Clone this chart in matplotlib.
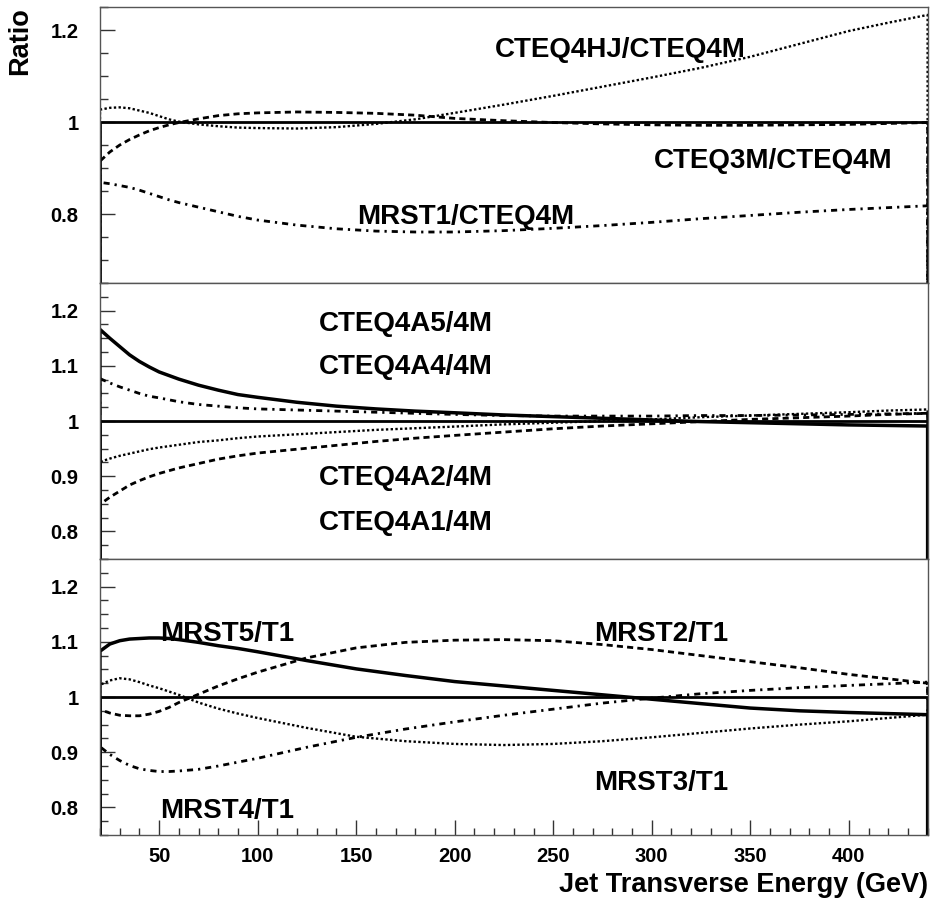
import matplotlib
matplotlib.use("Agg")
import matplotlib.pyplot as plt
from matplotlib.ticker import MultipleLocator, FormatStrFormatter
import numpy as np

plt.rcParams['font.family'] = ['Liberation Sans', 'DejaVu Sans']
plt.rcParams['font.weight'] = 'bold'

#----------------------------------------------------
# ratios vs jet Et
et_top = [20, 25, 30, 35, 40, 45, 50, 55, 60, 70, 80, 90, 100, 120, 140, 160,
          180, 200, 225, 250, 275, 300, 325, 350, 375, 400, 420, 440]
cteq4hj = [1.027, 1.031, 1.032, 1.030, 1.025, 1.020, 1.013, 1.006, 1.001, 0.995,
           0.991, 0.988, 0.987, 0.986, 0.989, 0.996, 1.006, 1.020, 1.038, 1.057,
           1.077, 1.097, 1.118, 1.142, 1.170, 1.198, 1.216, 1.233]
cteq3m = [0.915, 0.935, 0.950, 0.962, 0.972, 0.981, 0.988, 0.994, 0.999, 1.007,
          1.014, 1.018, 1.020, 1.022, 1.021, 1.019, 1.015, 1.008, 1.003, 0.999,
          0.996, 0.994, 0.993, 0.993, 0.994, 0.995, 0.997, 0.999]
mrst1 = [0.869, 0.866, 0.862, 0.858, 0.852, 0.845, 0.838, 0.831, 0.825, 0.815,
         0.805, 0.795, 0.787, 0.776, 0.768, 0.763, 0.761, 0.761, 0.764, 0.769,
         0.775, 0.782, 0.790, 0.797, 0.804, 0.810, 0.814, 0.818]

et_mid = [20, 25, 30, 35, 40, 45, 50, 60, 70, 80, 90, 100, 120, 140, 160, 180,
          200, 225, 250, 275, 300, 325, 350, 375, 400, 420, 440]
a5 = [1.166, 1.150, 1.135, 1.120, 1.108, 1.098, 1.089, 1.076, 1.065, 1.056,
      1.048, 1.043, 1.034, 1.027, 1.022, 1.018, 1.015, 1.011, 1.008, 1.005,
      1.002, 0.999, 0.997, 0.995, 0.993, 0.992, 0.991]
a4 = [1.077, 1.069, 1.062, 1.056, 1.050, 1.045, 1.042, 1.035, 1.030, 1.027,
      1.024, 1.022, 1.020, 1.018, 1.016, 1.014, 1.012, 1.010, 1.009, 1.009,
      1.009, 1.010, 1.010, 1.011, 1.012, 1.013, 1.014]
a2 = [0.926, 0.932, 0.937, 0.941, 0.945, 0.949, 0.952, 0.957, 0.962, 0.965,
      0.969, 0.972, 0.976, 0.980, 0.984, 0.987, 0.990, 0.994, 0.997, 1.000,
      1.003, 1.007, 1.010, 1.013, 1.016, 1.019, 1.021]
a1 = [0.849, 0.862, 0.873, 0.884, 0.892, 0.899, 0.905, 0.915, 0.923, 0.931,
      0.937, 0.942, 0.949, 0.956, 0.963, 0.969, 0.974, 0.980, 0.986, 0.991,
      0.995, 0.999, 1.003, 1.006, 1.009, 1.012, 1.014]

et_bot = [20, 25, 30, 35, 40, 45, 50, 55, 60, 70, 80, 90, 100, 125, 150, 175,
          200, 225, 250, 275, 300, 325, 350, 375, 400, 420, 440]
mrst5 = [1.083, 1.096, 1.102, 1.105, 1.106, 1.107, 1.107, 1.106, 1.104, 1.099,
         1.093, 1.088, 1.082, 1.066, 1.051, 1.039, 1.028, 1.020, 1.012, 1.004,
         0.996, 0.988, 0.980, 0.975, 0.972, 0.970, 0.968]
mrst2 = [0.977, 0.971, 0.967, 0.966, 0.966, 0.969, 0.974, 0.981, 0.990, 1.005,
         1.020, 1.033, 1.045, 1.071, 1.089, 1.099, 1.103, 1.104, 1.102, 1.095,
         1.086, 1.075, 1.064, 1.053, 1.041, 1.033, 1.025]
mrst3 = [1.022, 1.030, 1.034, 1.032, 1.027, 1.021, 1.016, 1.010, 1.004, 0.990,
         0.979, 0.970, 0.962, 0.944, 0.928, 0.920, 0.915, 0.913, 0.915, 0.920,
         0.927, 0.935, 0.943, 0.950, 0.956, 0.962, 0.968]
mrst4 = [0.910, 0.896, 0.885, 0.876, 0.870, 0.867, 0.865, 0.865, 0.866, 0.869,
         0.875, 0.882, 0.889, 0.909, 0.927, 0.942, 0.955, 0.967, 0.978, 0.989,
         0.998, 1.006, 1.012, 1.017, 1.021, 1.024, 1.027]

#----------------------------------------------------
# line styles (dash lengths are in units of line width)
UNITY = dict(ls='-', lw=2.0)
SOLID = dict(ls='-', lw=2.5)
DASH = dict(ls=(0, (2.2, 1.5)), lw=2.0)
DOT = dict(ls=(0, (1, 1)), lw=1.7)
DASHDOT = dict(ls=(0, (2.2, 1.8, 0.8, 1.8)), lw=2.0)

fig = plt.figure(figsize=(9.37, 9.09), dpi=100)
left, width, h = 0.1067, 0.8833, 0.3036
ax_top = fig.add_axes([left, 0.6886, width, h])
ax_mid = fig.add_axes([left, 0.3850, width, h])
ax_bot = fig.add_axes([left, 0.0814, width, h])


def hist_line(ax, x, y, style):
    # histogram-like outline: drop to zero at both ends
    xs = np.r_[x[0], x, x[-1]]
    ys = np.r_[0.0, y, 0.0]
    ax.plot(xs, ys, color='black', solid_capstyle='butt', dash_capstyle='butt',
            **style)


def label(ax, x, y, s):
    ax.text(x, y, s, fontsize=20, fontweight='bold', ha='left', va='baseline')


for ax in (ax_top, ax_mid, ax_bot):
    ax.set_xlim(20, 440)
    for sp in ax.spines.values():
        sp.set_color('#555555')
        sp.set_linewidth(1.0)
    ax.yaxis.set_major_formatter(FormatStrFormatter('%g'))
    ax.tick_params(axis='y', which='both', direction='in', left=True, right=False,
                   labelsize=14.5, pad=15.5, color='#333333', width=1)
    ax.tick_params(axis='y', which='major', length=11)
    ax.tick_params(axis='y', which='minor', length=5.5)
    for t in ax.get_yticklabels():
        t.set_fontweight('bold')

# top panel
hist_line(ax_top, et_top, np.ones(len(et_top)), UNITY)
hist_line(ax_top, et_top, cteq4hj, DOT)
hist_line(ax_top, et_top, cteq3m, DASH)
hist_line(ax_top, et_top, mrst1, DASHDOT)
ax_top.set_ylim(0.65, 1.25)
ax_top.yaxis.set_major_locator(MultipleLocator(0.2))
ax_top.yaxis.set_minor_locator(MultipleLocator(0.05))
label(ax_top, 220.6, 1.142, 'CTEQ4HJ/CTEQ4M')
label(ax_top, 301, 0.901, 'CTEQ3M/CTEQ4M')
label(ax_top, 150.3, 0.779, 'MRST1/CTEQ4M')

# middle panel
hist_line(ax_mid, et_mid, np.ones(len(et_mid)), UNITY)
hist_line(ax_mid, et_mid, a5, SOLID)
hist_line(ax_mid, et_mid, a4, DASHDOT)
hist_line(ax_mid, et_mid, a2, DOT)
hist_line(ax_mid, et_mid, a1, DASH)
ax_mid.set_ylim(0.75, 1.25)
ax_mid.yaxis.set_major_locator(MultipleLocator(0.1))
ax_mid.yaxis.set_minor_locator(MultipleLocator(0.025))
label(ax_mid, 130.9, 1.163, 'CTEQ4A5/4M')
label(ax_mid, 130.9, 1.085, 'CTEQ4A4/4M')
label(ax_mid, 130.9, 0.885, 'CTEQ4A2/4M')
label(ax_mid, 130.9, 0.803, 'CTEQ4A1/4M')

# bottom panel
hist_line(ax_bot, et_bot, np.ones(len(et_bot)), UNITY)
hist_line(ax_bot, et_bot, mrst5, SOLID)
hist_line(ax_bot, et_bot, mrst2, DASH)
hist_line(ax_bot, et_bot, mrst3, DOT)
hist_line(ax_bot, et_bot, mrst4, DASHDOT)
ax_bot.set_ylim(0.75, 1.25)
ax_bot.yaxis.set_major_locator(MultipleLocator(0.1))
ax_bot.yaxis.set_minor_locator(MultipleLocator(0.025))
label(ax_bot, 50.5, 1.101, 'MRST5/T1')
label(ax_bot, 50.5, 0.780, 'MRST4/T1')
label(ax_bot, 271, 1.101, 'MRST2/T1')
label(ax_bot, 271, 0.831, 'MRST3/T1')

# x axis only on the bottom panel
for ax in (ax_top, ax_mid):
    ax.tick_params(axis='x', which='both', bottom=False, top=False, labelbottom=False)
ax_bot.xaxis.set_major_locator(MultipleLocator(50))
ax_bot.xaxis.set_minor_locator(MultipleLocator(10))
ax_bot.tick_params(axis='x', which='both', direction='in', top=False,
                   labelsize=14.5, pad=8.6, color='#333333', width=1)
ax_bot.tick_params(axis='x', which='major', length=11)
ax_bot.tick_params(axis='x', which='minor', length=5)
for t in ax_bot.get_xticklabels():
    t.set_fontweight('bold')

fig.text(0.0213, 0.992, 'Ratio', rotation=90, fontsize=19.5, fontweight='bold',
         ha='center', va='top')
fig.text(0.990, 0.0264, 'Jet Transverse Energy (GeV)', fontsize=19.5,
         fontweight='bold', ha='right', va='center')

fig.savefig('out.png', dpi=100)
